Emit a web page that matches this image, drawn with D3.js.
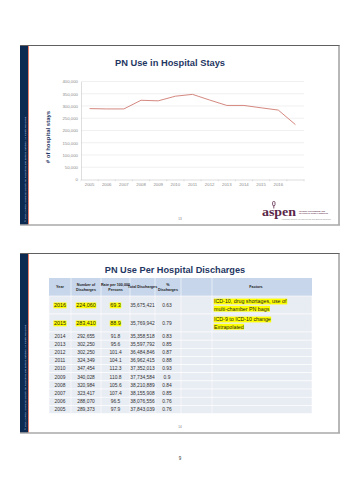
<!DOCTYPE html>
<html><head><meta charset="utf-8">
<script src="https://cdn.jsdelivr.net/npm/d3@7"></script>
<style>
html,body{margin:0;padding:0;background:#fff;}
svg{display:block;font-family:"Liberation Sans",Arial,sans-serif;}
</style></head>
<body>
<svg id="c" width="360" height="480"></svg>
<script>
// ---------- data ----------
const chartTitle = "PN Use in Hospital Stays";
const yAxisTitle = "# of hospital stays";
const xCategories = ["2005","2006","2007","2008","2009","2010","2011","2012","2013","2014","2015","2016",""];
const hospitalStays = [289373,288070,288070,323417,320984,340028,347454,324349,302250,302250,292655,283410,224060];
const yTicks = [0,50000,100000,150000,200000,250000,300000,350000,400000];

const tableTitle = "PN Use Per Hospital Discharges";
const headers = [["Year"],["Number of","Discharges"],["Rate per 100,000","Persons"],["Total Discharges"],["%","Discharges"],[""],["Factors"]];
const years = ["2016","2015","2014","2013","2012","2011","2010","2009","2008","2007","2006","2005"];
const discharges = ["224,060","283,410","292,655","302,250","302,250","324,349","347,454","340,028","320,984","323,417","288,070","289,373"];
const rates = ["69.3","88.9","91.8","95.6","101.4","104.1","112.3","110.8","105.6","107.4","96.5","97.9"];
const totals = ["35,675,421","35,769,942","35,358,518","35,597,792","36,484,846","36,962,415","37,352,013","37,734,584","38,210,889","38,155,908","38,076,556","37,843,039"];
const pcts = ["0.63","0.79","0.83","0.85","0.87","0.88","0.93","0.9","0.84","0.85","0.76","0.76"];
const factors = [["ICD-10, drug shortages, use of","multi-chamber PN bags"],["ICD-9 to ICD-10 change","Extrapolated"],[],[],[],[],[],[],[],[],[],[]];
const highlighted = [true,true,false,false,false,false,false,false,false,false,false,false];
const copyright = "\u00A9 2016 ASPEN American Society for Parenteral and Enteral Nutrition. All Rights Reserved.";

// ---------- helpers ----------
const svg = d3.select("#c");
const NAVY = "#1f3763";

function slideFrame(top, bottom, pageNo){
  const g = svg.append("g");
  g.append("rect").attr("x",20).attr("y",top).attr("width",319).attr("height",bottom-top).attr("fill","#fff");
  g.append("rect").attr("x",20).attr("y",top).attr("width",8).attr("height",bottom-top).attr("fill","#0d2a50");
  g.append("line").attr("x1",28.5).attr("x2",28.5).attr("y1",top).attr("y2",bottom).attr("stroke","#e8806c").attr("stroke-width",1);
  g.append("line").attr("x1",20).attr("x2",339.5).attr("y1",top+0.5).attr("y2",top+0.5).attr("stroke","#606060").attr("stroke-width",1);
  g.append("line").attr("x1",339).attr("x2",339).attr("y1",top).attr("y2",bottom).attr("stroke","#707070").attr("stroke-width",1);
  g.append("line").attr("x1",20).attr("x2",340).attr("y1",bottom).attr("y2",bottom).attr("stroke","#a8a8a8").attr("stroke-width",1.6);
  g.append("text").attr("transform",`translate(25.6,${bottom-3}) rotate(-90)`)
    .attr("font-size",2.4).attr("fill","#c9d3e2").attr("textLength",106).attr("lengthAdjust","spacingAndGlyphs").text(copyright);
  g.append("text").attr("x",180).attr("y",bottom-5).attr("text-anchor","middle").attr("font-size",3).attr("fill","#777").text(pageNo);
  return g;
}

// ---------- slide 1: line chart ----------
slideFrame(45,225,"13");
svg.append("text").attr("x",170).attr("y",65.5).attr("text-anchor","middle")
  .attr("font-size",9.3).attr("font-weight","bold").attr("fill",NAVY).text(chartTitle);

const x = d3.scaleBand().domain(xCategories.map((d,i)=>i)).range([81,304]);
const y = d3.scaleLinear().domain([0,400000]).range([179.5,81.5]);

const grid = svg.append("g");
grid.selectAll("line").data(yTicks.filter(t=>t>0)).join("line")
  .attr("x1",81).attr("x2",304).attr("y1",d=>y(d)).attr("y2",d=>y(d))
  .attr("stroke","#e6e6e6").attr("stroke-width",0.6);

const yAx = svg.append("g").attr("transform","translate(81,0)")
  .call(d3.axisLeft(y).tickValues(yTicks).tickFormat(d3.format(",")).tickSize(0).tickPadding(3));
yAx.select(".domain").attr("stroke","#c8c8c8").attr("stroke-width",0.6);
yAx.selectAll("text").attr("font-size",4.3).attr("fill","#8a8a8a").attr("font-family","Liberation Sans, Arial, sans-serif");

const xAx = svg.append("g").attr("transform","translate(0,179.5)")
  .call(d3.axisBottom(x).tickFormat(i=>xCategories[i]).tickSize(0).tickPadding(3.5));
xAx.select(".domain").attr("stroke","#c8c8c8").attr("stroke-width",0.6);
xAx.selectAll("text").attr("font-size",4.3).attr("fill","#8a8a8a").attr("font-family","Liberation Sans, Arial, sans-serif");
svg.append("g").selectAll("line").data(d3.range(xCategories.length+1)).join("line")
  .attr("x1",i=>81+i*x.step()).attr("x2",i=>81+i*x.step()).attr("y1",179.5).attr("y2",181.3)
  .attr("stroke","#c8c8c8").attr("stroke-width",0.5);

const line = d3.line().x((d,i)=>x(i)+x.bandwidth()/2).y(d=>y(d));
svg.append("path").datum(hospitalStays).attr("d",line).attr("fill","none")
  .attr("stroke","#cf7a72").attr("stroke-width",0.9);

svg.append("text").attr("transform","translate(49.5,137) rotate(-90)").attr("text-anchor","middle")
  .attr("font-size",6).attr("font-weight","bold").attr("fill",NAVY).text(yAxisTitle);

// logo
const logo = svg.append("g");
logo.append("text").attr("x",262).attr("y",216).attr("font-family","Liberation Serif, serif").attr("font-weight","bold")
  .attr("font-size",13.5).attr("fill","#5a2648").attr("textLength",34).attr("lengthAdjust","spacingAndGlyphs").text("aspen");
logo.append("rect").attr("x",272.6).attr("y",201.5).attr("width",2.4).attr("height",4.2).attr("rx",1).attr("fill","none").attr("stroke","#5a2648").attr("stroke-width",0.8);
logo.append("line").attr("x1",273.8).attr("x2",273.8).attr("y1",205.7).attr("y2",208.5).attr("stroke","#5a2648").attr("stroke-width",0.8);
logo.append("text").attr("x",299).attr("y",211.5).attr("font-size",1.8).attr("fill","#5a2648").attr("font-weight","bold").attr("textLength",26).attr("lengthAdjust","spacingAndGlyphs").text("LEADING THE SCIENCE AND");
logo.append("text").attr("x",299).attr("y",214).attr("font-size",1.8).attr("fill","#5a2648").attr("font-weight","bold").attr("textLength",29).attr("lengthAdjust","spacingAndGlyphs").text("PRACTICE OF CLINICAL NUTRITION");
logo.append("text").attr("x",281).attr("y",219.6).attr("font-size",1.5).attr("fill","#888").attr("textLength",50).attr("lengthAdjust","spacingAndGlyphs").text("American Society for Parenteral and Enteral Nutrition");

// ---------- slide 2: table ----------
slideFrame(253,433,"14");
svg.append("text").attr("x",175).attr("y",273).attr("text-anchor","middle")
  .attr("font-size",9.2).attr("font-weight","bold").attr("fill",NAVY).text(tableTitle);

const colEdges = [49,71,101,130,155,181,212,312];
const headTop = 278, headH = 18;
const rowH = factors.map(f=>f.length>1?18:8.15);
const rowTop = [];
rowH.reduce((acc,h,i)=>{rowTop[i]=acc;return acc+h;}, headTop+headH);
const tableBottom = rowTop[rowTop.length-1]+rowH[rowH.length-1];

const tg = svg.append("g");
tg.append("rect").attr("x",colEdges[0]).attr("y",headTop).attr("width",colEdges[7]-colEdges[0]).attr("height",headH).attr("fill","#c7d6ea");
tg.selectAll("rect.row").data(years).join("rect").attr("class","row")
  .attr("x",colEdges[0]).attr("y",(d,i)=>rowTop[i]).attr("width",colEdges[7]-colEdges[0]).attr("height",(d,i)=>rowH[i])
  .attr("fill","#e8ecf3").attr("stroke","#fff").attr("stroke-width",0.6);
tg.selectAll("line.col").data(colEdges.slice(1,-1)).join("line").attr("class","col")
  .attr("x1",d=>d).attr("x2",d=>d).attr("y1",headTop).attr("y2",tableBottom).attr("stroke","#fff").attr("stroke-width",0.6);

const centers = colEdges.slice(0,-1).map((e,i)=>(e+colEdges[i+1])/2);
headers.forEach((h,ci)=>{
  const n = h.length;
  h.forEach((t,li)=>{
    tg.append("text").attr("x", ci===6?256:centers[ci]).attr("y",headTop+headH/2+1.4+(li-(n-1)/2)*4.6)
      .attr("text-anchor","middle").attr("font-size",3.7).attr("font-weight","bold").attr("fill","#222").text(t);
  });
});

function cell(txt, cx, cy, hl, size){
  const t = tg.append("text").attr("x",cx).attr("y",cy+1.7).attr("text-anchor","middle")
    .attr("font-size",size).attr("fill","#333").text(txt);
  if(hl){
    const b = t.node().getBBox();
    tg.insert("rect","text").attr("x",b.x-0.5).attr("y",b.y+0.3).attr("width",b.width+1).attr("height",b.height-0.2).attr("fill","#ffff00");
    t.attr("fill","#222");
  }
}
years.forEach((yr,i)=>{
  const cy = rowTop[i]+rowH[i]/2 + (highlighted[i]?0.5:0);
  const sz = highlighted[i]?5.4:4.9;
  cell(yr, centers[0], cy, highlighted[i], sz);
  cell(discharges[i], centers[1], cy, highlighted[i], sz);
  cell(rates[i], centers[2], cy, highlighted[i], sz);
  cell(totals[i], centers[3], cy, false, 4.9);
  cell(pcts[i], centers[4]-1, cy, false, 4.9);
  factors[i].forEach((f,li)=>{
    const fy = rowTop[i]+rowH[i]/2 + (li-0.5)*7.2 + 1.9;
    const t = tg.append("text").attr("x",214).attr("y",fy).attr("font-size",5.3).attr("fill","#222").text(f);
    const b = t.node().getBBox();
    tg.insert("rect","text").attr("x",b.x-0.3).attr("y",b.y+0.3).attr("width",b.width+0.6).attr("height",b.height-0.2).attr("fill","#ffff00");
  });
});

svg.append("text").attr("x",180).attr("y",460).attr("text-anchor","middle").attr("font-size",4.5).attr("fill","#333").text("9");
</script>
</body></html>
